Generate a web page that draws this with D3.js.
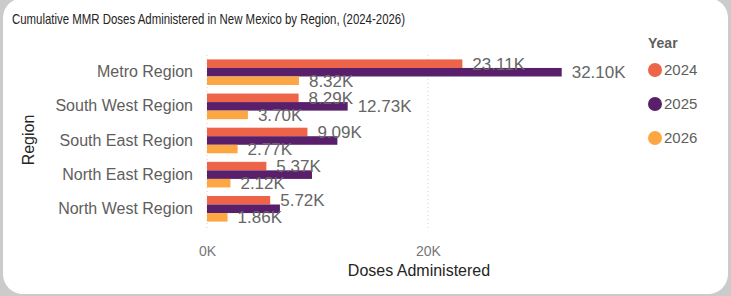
<!DOCTYPE html>
<html>
<head>
<meta charset="utf-8">
<script src="https://cdn.jsdelivr.net/npm/d3@7"></script>
<style>
  body { margin: 0; background: #cbcbcb; }
  svg { display: block; font-family: Arial, "Liberation Sans", sans-serif; }
</style>
</head>
<body>
<svg id="chart"></svg>
<script>
// datos
const regiones = ["Metro Region", "South West Region", "South East Region", "North East Region", "North West Region"];
const anios = ["2024", "2025", "2026"];
const dosis_2024 = [23.11, 8.29, 9.09, 5.37, 5.72];
const dosis_2025 = [32.10, 12.73, 11.8, 9.5, 6.6];
const dosis_2026 = [8.32, 3.70, 2.77, 2.12, 1.86];
// solo algunos tienen etiqueta visible en el original
const etiqueta_2025 = [true, true, false, false, false];
const etiqueta_2024 = [true, true, true, true, true];
const etiqueta_2026 = [true, true, true, true, true];
const ticks_x = [0, 20];
const colores = ["#ee6448", "#5a1f6a", "#fda644"];

const ancho = 731, alto = 296;
const svg = d3.select("#chart").attr("width", ancho).attr("height", alto);

// tarjeta blanca con esquinas redondeadas
svg.append("rect")
  .attr("x", 3).attr("y", -2)
  .attr("width", 725).attr("height", 296)
  .attr("rx", 20)
  .style("fill", "#fff");

// el titulo original usa una fuente mas angosta
svg.append("text")
  .attr("x", 12).attr("y", 24)
  .attr("textLength", 393)
  .attr("lengthAdjust", "spacingAndGlyphs")
  .style("font-size", "15px")
  .style("fill", "#252423")
  .text("Cumulative MMR Doses Administered in New Mexico by Region, (2024-2026)");

const series = [dosis_2024, dosis_2025, dosis_2026];
const etiquetas = [etiqueta_2024, etiqueta_2025, etiqueta_2026];

const x = d3.scaleLinear().domain([0, 20]).range([207, 428]);
const y = d3.scaleBand().domain(regiones).range([56, 225]).paddingInner(0.25).paddingOuter(0.1);
const y2 = d3.scaleBand().domain(anios).range([0, y.bandwidth()]);

// lineas de grilla punteadas
svg.selectAll(".grid").data(ticks_x).enter().append("line")
  .attr("x1", d => x(d)).attr("x2", d => x(d))
  .attr("y1", 55).attr("y2", 230)
  .style("stroke", "#d0d0d0")
  .style("stroke-dasharray", "1,3");

// eje x
const ejeX = d3.axisBottom(x).tickValues(ticks_x).tickSize(0).tickFormat(d => d + "K");
const gx = svg.append("g").attr("transform", "translate(0,243)").call(ejeX);
gx.select(".domain").remove();
gx.selectAll("text").style("font-size", "14px").style("fill", "#777").style("font-family", "Arial");

// eje y
const ejeY = d3.axisLeft(y).tickSize(0).tickPadding(14);
const gy = svg.append("g").attr("transform", "translate(207,0)").call(ejeY);
gy.select(".domain").remove();
gy.selectAll("text").style("font-size", "16px").style("fill", "#605e5c").style("font-family", "Arial");

// barras por anio
for (let s = 0; s < series.length; s++) {
  svg.selectAll(".bar" + s).data(regiones).enter().append("rect")
    .attr("x", x(0))
    .attr("y", d => y(d) + y2(anios[s]))
    .attr("width", (d, i) => x(series[s][i]) - x(0))
    .attr("height", y2.bandwidth())
    .style("fill", colores[s]);
}

// etiquetas de valores (se dibujan encima de todas las barras)
for (let s = 0; s < series.length; s++) {
  svg.selectAll(".lab" + s).data(regiones).enter().append("text")
    .filter((d, i) => etiquetas[s][i])
    .attr("x", d => x(series[s][regiones.indexOf(d)]) + 10)
    .attr("y", d => y(d) + y2(anios[s]) + y2.bandwidth() / 2)
    .attr("dy", "0.36em")
    .style("font-size", "17px")
    .style("fill", "#666")
    .text(d => series[s][regiones.indexOf(d)].toFixed(2) + "K");
}

svg.append("text")
  .attr("transform", "translate(34,140) rotate(-90)")
  .attr("text-anchor", "middle")
  .style("font-size", "16px")
  .style("fill", "#252423")
  .text("Region");

svg.append("text")
  .attr("x", 419).attr("y", 276)
  .attr("text-anchor", "middle")
  .style("font-size", "16px")
  .style("fill", "#252423")
  .text("Doses Administered");

// leyenda
svg.append("text")
  .attr("x", 648).attr("y", 48)
  .style("font-size", "14px")
  .style("font-weight", "bold")
  .style("fill", "#605e5c")
  .text("Year");

const leyenda = svg.selectAll(".ley").data(anios).enter().append("g")
  .attr("transform", (d, i) => "translate(655," + (70 + i * 34) + ")");
leyenda.append("circle").attr("r", 7).style("fill", (d, i) => colores[i]);
leyenda.append("text")
  .attr("x", 9).attr("dy", "0.36em")
  .style("font-size", "15px")
  .style("fill", "#605e5c")
  .text(d => d);
</script>
</body>
</html>
